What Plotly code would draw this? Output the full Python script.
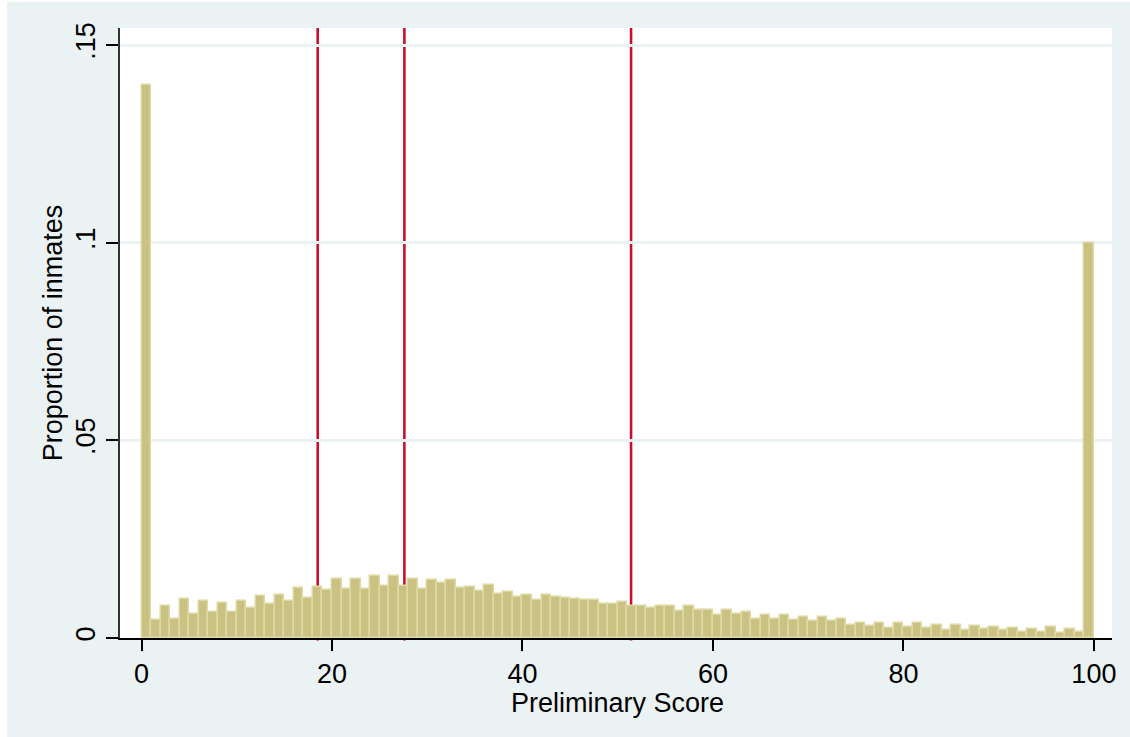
import plotly.graph_objects as go

# Histogram bin left edges (width 1) and proportions
bin_left = list(range(0, 100))
proportions = [
    0.140, 0.0046, 0.0080, 0.0049, 0.0099, 0.0061, 0.0093, 0.0066, 0.0089, 0.0067,
    0.0093, 0.0077, 0.0107, 0.0085, 0.0109, 0.0093, 0.0127, 0.0102, 0.0130, 0.0122,
    0.0149, 0.0124, 0.0149, 0.0124, 0.0158, 0.0132, 0.0158, 0.0131, 0.0150, 0.0125,
    0.0146, 0.0140, 0.0147, 0.0126, 0.0130, 0.0119, 0.0135, 0.0112, 0.0116, 0.0104,
    0.0110, 0.0096, 0.0109, 0.0104, 0.0102, 0.0099, 0.0097, 0.0096, 0.0085, 0.0087,
    0.0091, 0.0082, 0.0080, 0.0077, 0.0081, 0.0082, 0.0068, 0.0081, 0.0071, 0.0071,
    0.0057, 0.0071, 0.0061, 0.0065, 0.0049, 0.0059, 0.0049, 0.0058, 0.0046, 0.0054,
    0.0044, 0.0052, 0.0042, 0.0049, 0.0034, 0.0039, 0.0031, 0.0039, 0.0026, 0.0039,
    0.0028, 0.0037, 0.0025, 0.0033, 0.0019, 0.0033, 0.0019, 0.0031, 0.0022, 0.0027,
    0.0019, 0.0025, 0.0014, 0.0023, 0.0016, 0.0027, 0.0012, 0.0024, 0.0014, 0.100,
]
bin_width = 1.0

# Vertical cutoff lines
cutoffs = [18.5, 27.6, 51.4]

x_ticks = [0, 20, 40, 60, 80, 100]
y_ticks = [0, 0.05, 0.10, 0.15]
y_tick_labels = ["0", ".05", ".1", ".15"]

x_title = "Preliminary Score"
y_title = "Proportion of inmates"

BG = "#EAF2F3"
FONT = "Liberation Sans, Arial, Helvetica, sans-serif"
FS = 27

fig = go.Figure()
fig.add_trace(go.Bar(
    x=[b + bin_width / 2 for b in bin_left],
    y=proportions,
    width=bin_width,
    marker=dict(color="rgb(202,194,130)",
                line=dict(color="rgb(222,216,162)", width=1.5)),
    showlegend=False,
    hoverinfo="x+y",
))

for c in cutoffs:
    fig.add_shape(type="line", xref="x", yref="paper",
                  x0=c, x1=c, y0=-0.004, y1=1,
                  line=dict(color="rgb(200,16,46)", width=2.6),
                  layer="between")

# white strips at the top/left edge of the page
fig.add_shape(type="rect", xref="paper", yref="paper",
              x0=-0.2, x1=-0.1139, y0=-0.3, y1=1.2,
              fillcolor="white", line=dict(width=0), layer="below")
fig.add_shape(type="rect", xref="paper", yref="paper",
              x0=-0.2, x1=1.2, y0=1.0427, y1=1.2,
              fillcolor="white", line=dict(width=0), layer="below")

# x-axis title placed as an annotation
fig.add_annotation(text=x_title, xref="paper", yref="paper",
                   x=0.502, y=-0.106, xanchor="center", yanchor="middle",
                   showarrow=False, font=dict(size=FS, family=FONT, color="black"))

fig.update_layout(
    width=1130, height=737,
    margin=dict(l=120, r=18, t=28, b=99),
    paper_bgcolor=BG,
    plot_bgcolor="white",
    font=dict(family=FONT, size=FS, color="black"),
    bargap=0,
    xaxis=dict(
        range=[-2.26, 101.9],
        tickvals=x_ticks,
        showgrid=False, zeroline=False,
        showline=True, linecolor="black", linewidth=1.5,
        ticks="outside", ticklen=11, tickwidth=1.5, tickcolor="black",
        tickfont=dict(size=FS),
    ),
    yaxis=dict(
        range=[0, 0.1543],
        tickvals=y_ticks, ticktext=y_tick_labels,
        tickangle=-90,
        showgrid=True, gridcolor=BG, gridwidth=2.5,
        zeroline=False,
        showline=True, linecolor="#333333", linewidth=1.5,
        ticks="outside", ticklen=12, tickwidth=1.5, tickcolor="black",
        tickfont=dict(size=FS),
        title=dict(text=y_title, font=dict(size=FS), standoff=1),
    ),
)

fig.write_html("out.html")
